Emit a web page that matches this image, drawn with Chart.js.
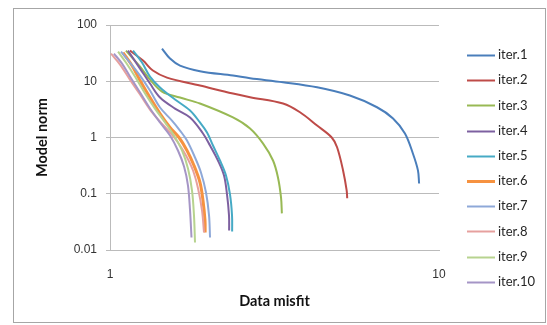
<!DOCTYPE html>
<html><head><meta charset="utf-8">
<script src="https://cdn.jsdelivr.net/npm/chart.js@4"></script>
<style>html,body{margin:0;padding:0;background:#fff}canvas{display:block}</style>
</head><body>
<canvas id="c" width="547" height="325"></canvas>
<script>
const seriesNames = ["iter.1","iter.2","iter.3","iter.4","iter.5","iter.6","iter.7","iter.8","iter.9","iter.10"];
const seriesColors = ["#4A7EBB","#BE4B48","#98B954","#7D60A0","#46AAC5","#F69240","#8EA8D8","#E6A09E","#B7D38F","#A595C6"];
const xTickValues = [1, 10];
const yTickValues = [0.01, 0.1, 1, 10, 100];

const iter1Misfit = [1.439,1.522,1.632,1.877,2.365,2.665,3.357,4.26,5.36,6.48,7.25,7.88,8.33,8.63,8.70];
const iter1Norm   = [38.1,25.3,19.0,15.1,12.6,11.3,9.6,7.8,5.57,3.45,2.18,1.18,0.52,0.26,0.152];
const iter2Misfit = [1.15,1.26,1.35,1.49,1.877,2.365,2.665,3.357,3.78,4.26,4.72,4.90,5.11,5.24,5.26];
const iter2Norm   = [35.1,23.3,15.5,11.6,8.39,6.04,5.2,4.02,2.81,1.63,1.0,0.67,0.26,0.115,0.083];
const iter3Misfit = [1.118,1.234,1.323,1.439,1.632,1.877,2.365,2.665,2.92,3.13,3.24,3.31,3.33];
const iter3Norm   = [35,18.2,10.7,6.56,5.13,4.02,2.27,1.445,0.78,0.39,0.195,0.086,0.0447];
const iter4Misfit = [1.134,1.234,1.323,1.419,1.576,1.751,1.917,2.014,2.129,2.221,2.268,2.300,2.302];
const iter4Norm   = [35.1,16.8,9.10,5.13,3.27,2.27,1.18,0.721,0.390,0.211,0.0972,0.0412,0.0223];
const iter5Misfit = [1.175,1.251,1.323,1.419,1.576,1.751,1.877,1.972,2.056,2.159,2.252,2.316,2.349,2.351];
const iter5Norm   = [35.1,21.5,12.1,7.73,4.73,3.02,1.85,1.23,0.721,0.390,0.211,0.0972,0.0412,0.0214];
const iter6Misfit = [1.095,1.166,1.234,1.323,1.419,1.522,1.621,1.714,1.800,1.877,1.917,1.944,1.946];
const iter6Norm   = [32.4,19.0,10.3,5.13,2.67,1.51,1.0,0.588,0.318,0.159,0.0760,0.0336,0.0205];
const iter7Misfit = [1.080,1.150,1.234,1.323,1.419,1.543,1.632,1.714,1.813,1.890,1.958,2.000,2.014];
const iter7Norm   = [33.7,21.5,12.6,6.83,3.41,2.00,1.33,0.885,0.441,0.239,0.1055,0.0412,0.0167];
const iter8Misfit = [1.007,1.073,1.150,1.234,1.323,1.419,1.522,1.609,1.702,1.788,1.852,1.904,1.931];
const iter8Norm   = [31.0,19.8,10.7,5.80,3.14,1.92,1.23,0.815,0.479,0.259,0.124,0.0505,0.0205];
const iter9Misfit = [1.058,1.118,1.191,1.278,1.370,1.470,1.565,1.655,1.726,1.775,1.800,1.813];
const iter9Norm   = [33.7,21.5,12.1,6.05,3.27,1.85,1.085,0.588,0.281,0.1145,0.0412,0.0136];
const iter10Misfit = [1.028,1.088,1.150,1.234,1.323,1.419,1.522,1.609,1.679,1.726,1.751,1.769];
const iter10Norm   = [31.0,20.6,12.1,6.30,3.27,1.85,1.085,0.588,0.305,0.140,0.0505,0.0167];

const allMisfit = [iter1Misfit,iter2Misfit,iter3Misfit,iter4Misfit,iter5Misfit,iter6Misfit,iter7Misfit,iter8Misfit,iter9Misfit,iter10Misfit];
const allNorm = [iter1Norm,iter2Norm,iter3Norm,iter4Norm,iter5Norm,iter6Norm,iter7Norm,iter8Norm,iter9Norm,iter10Norm];

const datasets = seriesNames.map((name, i) => ({
  label: name,
  data: allMisfit[i].map((x, j) => ({x: x, y: allNorm[i][j]})),
  borderColor: seriesColors[i],
  backgroundColor: seriesColors[i],
  borderWidth: i === 5 ? 3 : 2,
  pointRadius: 0,
  fill: false,
  tension: 0.35,
  order: seriesNames.length - i
}));

const frame = {
  id: 'frame',
  beforeDraw(chart) {
    const ctx = chart.ctx;
    ctx.save();
    ctx.fillStyle = '#fff';
    ctx.fillRect(0, 0, chart.width, chart.height);
    ctx.strokeStyle = '#A6A6A6';
    ctx.lineWidth = 1;
    ctx.strokeRect(13.5, 8.5, 532, 314);
    ctx.restore();
  }
};

const legendDraw = {
  id: 'legendDraw',
  afterDraw(chart) {
    const ctx = chart.ctx;
    ctx.save();
    ctx.font = '13px Lato';
    ctx.textBaseline = 'middle';
    ctx.textAlign = 'left';
    chart.data.datasets.forEach((ds, i) => {
      const y = 55 + i * 25.2;
      ctx.strokeStyle = ds.borderColor;
      ctx.lineWidth = ds.borderWidth;
      ctx.beginPath();
      ctx.moveTo(467, Math.round(y) + 0.5);
      ctx.lineTo(495, Math.round(y) + 0.5);
      ctx.stroke();
      ctx.fillStyle = '#262626';
      ctx.fillText(ds.label, 498, y);
    });
    ctx.restore();
  }
};

new Chart(document.getElementById('c'), {
  type: 'line',
  data: { datasets: datasets },
  options: {
    responsive: false,
    devicePixelRatio: 1,
    animation: false,
    layout: { padding: { left: 30, right: 108, top: 25, bottom: 13 } },
    plugins: { legend: { display: false }, tooltip: { enabled: false } },
    scales: {
      x: {
        type: 'logarithmic',
        min: 1, max: 10,
        afterBuildTicks(s) { s.ticks = xTickValues.map(v => ({value: v})); },
        afterFit(s) { s.height = 62; },
        grid: { display: false, drawTicks: false },
        border: { display: true, color: '#BBBBBB', width: 1 },
        ticks: { padding: 17, color: '#333', font: { family: 'Liberation Sans', size: 12 }, maxRotation: 0, callback: v => String(v) },
        title: { display: true, text: 'Data misfit', color: '#111', font: { family: 'Lato', size: 14.5, weight: 'bold' }, padding: { top: 0, bottom: 2 } }
      },
      y: {
        type: 'logarithmic',
        min: 0.01, max: 100,
        afterBuildTicks(s) { s.ticks = yTickValues.map(v => ({value: v})); },
        afterFit(s) { s.width = 80; },
        grid: { color: '#BBBBBB', lineWidth: 1, drawTicks: true, tickLength: 4 },
        border: { display: true, color: '#BBBBBB', width: 1 },
        ticks: { padding: 9, color: '#333', font: { family: 'Liberation Sans', size: 12 }, callback: v => String(v) },
        title: { display: true, text: 'Model norm', color: '#111', font: { family: 'Lato', size: 14.5, weight: 'bold' }, padding: { top: 4, bottom: 4 } }
      }
    }
  },
  plugins: [frame, legendDraw]
});
</script>
</body></html>
